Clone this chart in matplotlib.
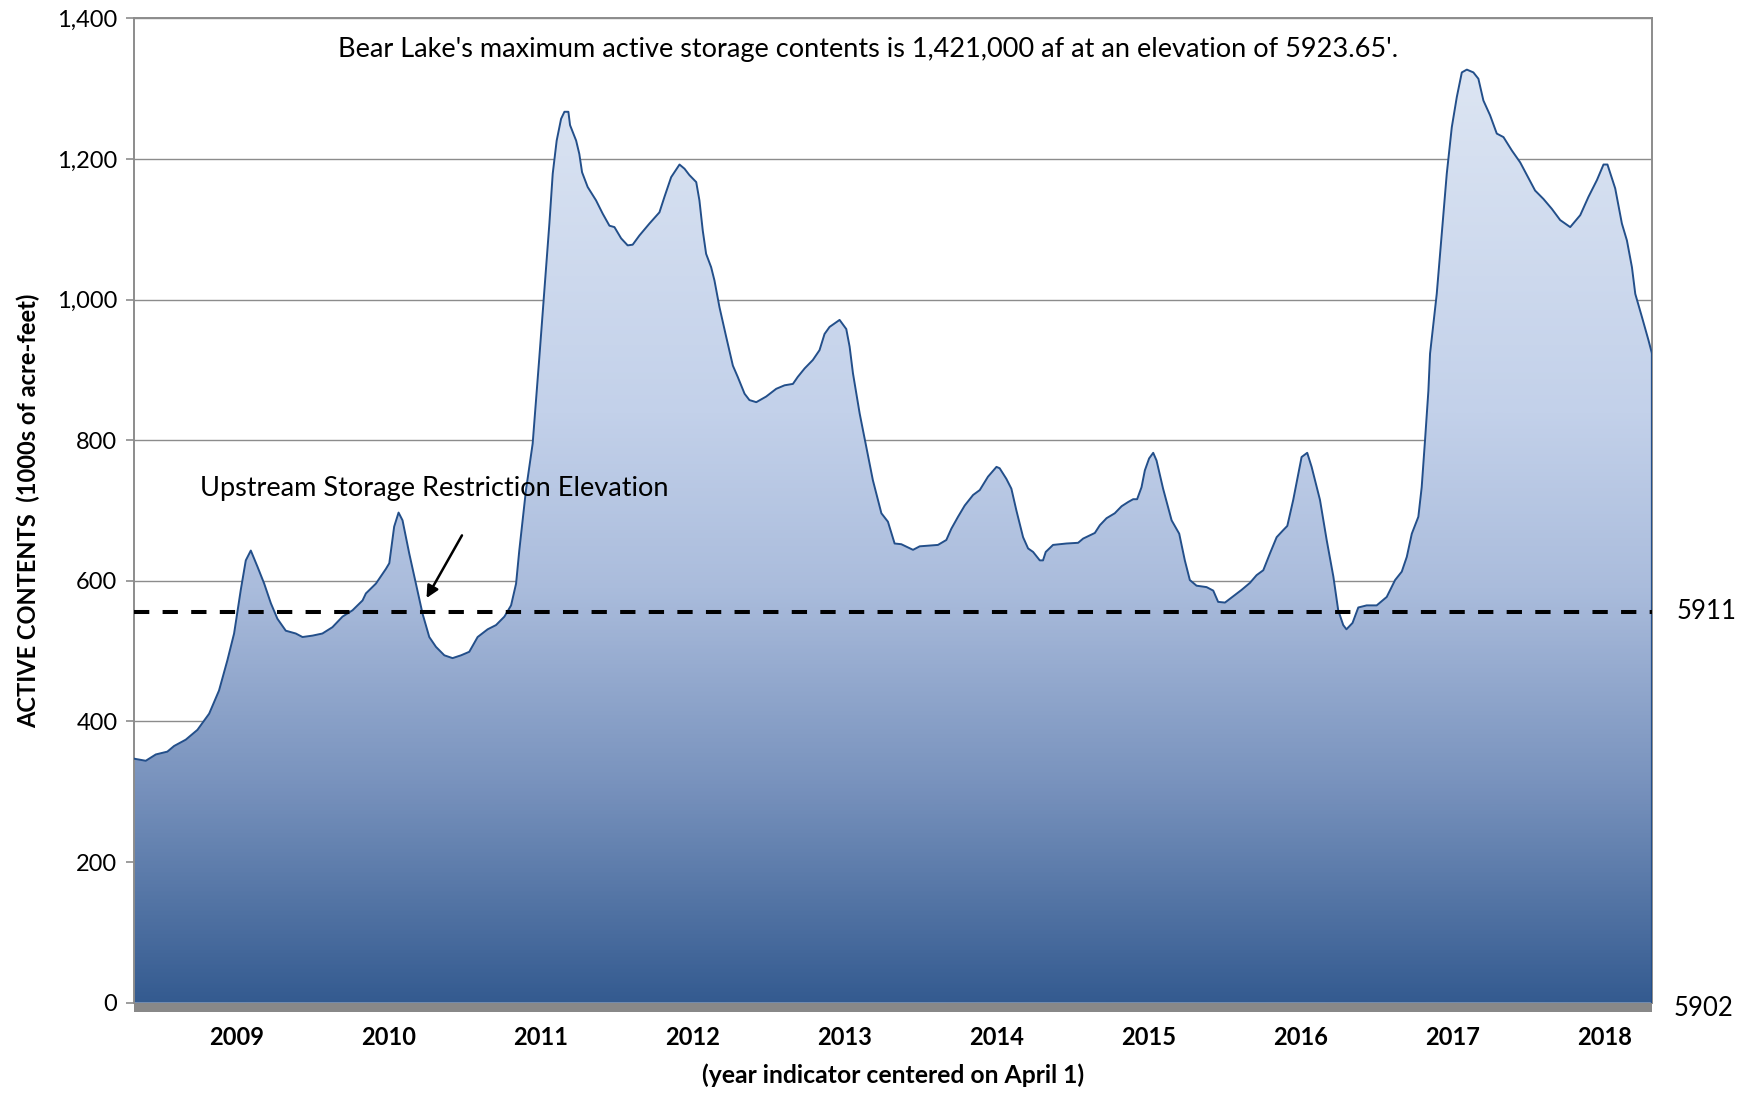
import numpy as np
import matplotlib
matplotlib.use("Agg")
import matplotlib.pyplot as plt
from matplotlib.colors import LinearSegmentedColormap
from matplotlib.patches import Rectangle
from matplotlib.ticker import FuncFormatter

# ---------------- data (decimal year, active contents in 1000s af) ----------------
years = [
    2008.574, 2008.651, 2008.717, 2008.793, 2008.837, 2008.914, 2008.991, 2009.068, 2009.133, 2009.188,
    2009.232, 2009.276, 2009.309, 2009.342, 2009.386, 2009.430, 2009.474, 2009.517, 2009.572, 2009.638,
    2009.682, 2009.748, 2009.813, 2009.879, 2009.945, 2010.011, 2010.077, 2010.099, 2010.165, 2010.231,
    2010.253, 2010.285, 2010.314, 2010.340, 2010.384, 2010.428, 2010.472, 2010.516, 2010.560, 2010.615,
    2010.669, 2010.725, 2010.779, 2010.834, 2010.900, 2010.955, 2011.010, 2011.054, 2011.087, 2011.108,
    2011.152, 2011.196, 2011.240, 2011.273, 2011.306, 2011.328, 2011.354, 2011.383, 2011.405, 2011.431,
    2011.442, 2011.482, 2011.503, 2011.521, 2011.558, 2011.613, 2011.657, 2011.701, 2011.734, 2011.778,
    2011.821, 2011.854, 2011.898, 2011.964, 2012.030, 2012.063, 2012.107, 2012.162, 2012.195, 2012.227,
    2012.272, 2012.293, 2012.315, 2012.337, 2012.370, 2012.392, 2012.425, 2012.469, 2012.513, 2012.545,
    2012.590, 2012.622, 2012.667, 2012.732, 2012.798, 2012.853, 2012.908, 2012.940, 2012.985, 2013.039,
    2013.083, 2013.116, 2013.149, 2013.182, 2013.215, 2013.259, 2013.281, 2013.303, 2013.347, 2013.391,
    2013.434, 2013.490, 2013.533, 2013.577, 2013.621, 2013.698, 2013.742, 2013.862, 2013.917, 2013.950,
    2013.994, 2014.038, 2014.093, 2014.137, 2014.191, 2014.247, 2014.268, 2014.312, 2014.345, 2014.378,
    2014.422, 2014.455, 2014.488, 2014.532, 2014.553, 2014.571, 2014.619, 2014.707, 2014.784, 2014.817,
    2014.894, 2014.927, 2014.971, 2015.025, 2015.070, 2015.113, 2015.146, 2015.172, 2015.201, 2015.223,
    2015.251, 2015.278, 2015.300, 2015.343, 2015.399, 2015.449, 2015.486, 2015.519, 2015.563, 2015.629,
    2015.673, 2015.705, 2015.750, 2015.804, 2015.859, 2015.914, 2015.958, 2016.002, 2016.046, 2016.090,
    2016.133, 2016.160, 2016.199, 2016.254, 2016.291, 2016.320, 2016.375, 2016.419, 2016.463, 2016.495,
    2016.528, 2016.549, 2016.589, 2016.627, 2016.682, 2016.748, 2016.814, 2016.869, 2016.913, 2016.946,
    2016.979, 2017.022, 2017.044, 2017.066, 2017.088, 2017.099, 2017.143, 2017.176, 2017.209, 2017.242,
    2017.275, 2017.308, 2017.341, 2017.384, 2017.417, 2017.450, 2017.494, 2017.538, 2017.582, 2017.637,
    2017.692, 2017.736, 2017.790, 2017.845, 2017.900, 2017.955, 2018.021, 2018.087, 2018.141, 2018.197,
    2018.240, 2018.266, 2018.317, 2018.361, 2018.394, 2018.427, 2018.449, 2018.493, 2018.536, 2018.559,
]
contents = [
    347, 344, 353, 357, 365, 374, 388, 411, 444, 487,
    525, 587, 629, 643, 620, 596, 568, 546, 529, 525,
    520, 522, 525, 534, 549, 558, 572, 582, 596, 617,
    625, 677, 697, 686, 639, 596, 553, 520, 506, 494,
    490, 494, 499, 520, 531, 537, 549, 565, 596, 643,
    729, 795, 918, 1013, 1108, 1179, 1226, 1257, 1267, 1267,
    1248, 1226, 1207, 1181, 1160, 1141, 1122, 1105, 1103, 1087,
    1077, 1078, 1091, 1108, 1124, 1146, 1174, 1192, 1186, 1177,
    1167, 1141, 1098, 1065, 1046, 1027, 989, 947, 906, 890,
    866, 857, 854, 862, 873, 878, 880, 890, 902, 914,
    928, 951, 961, 966, 971, 958, 933, 895, 838, 790,
    743, 696, 684, 653, 652, 644, 649, 651, 658, 674,
    691, 707, 722, 729, 748, 762, 760, 745, 731, 700,
    662, 646, 641, 629, 629, 641, 651, 653, 654, 660,
    668, 679, 689, 696, 706, 712, 716, 716, 733, 757,
    774, 782, 771, 731, 686, 667, 629, 601, 593, 591,
    586, 570, 569, 578, 587, 597, 608, 615, 639, 662,
    672, 678, 715, 776, 782, 762, 715, 658, 606, 558,
    537, 531, 540, 562, 565, 565, 577, 601, 613, 634,
    667, 691, 733, 800, 870, 923, 1008, 1094, 1179, 1245,
    1288, 1323, 1327, 1323, 1314, 1283, 1262, 1236, 1231, 1212,
    1195, 1177, 1155, 1143, 1129, 1113, 1103, 1120, 1146, 1170,
    1192, 1192, 1158, 1108, 1084, 1046, 1008, 975, 942, 923,
]
tick_years = [2009, 2010, 2011, 2012, 2013, 2014, 2015, 2016, 2017, 2018]
restriction_level = 556          # 1000s af, elevation 5911
elev_labels = ["5911", "5902"]
y_ticks = [0, 200, 400, 600, 800, 1000, 1200, 1400]

title_text = "Bear Lake's maximum active storage contents is 1,421,000 af at an elevation of 5923.65'."
annot_text = "Upstream Storage Restriction Elevation"
ylabel_text = "ACTIVE CONTENTS  (1000s of acre-feet)"
xlabel_text = "(year indicator centered on April 1)"

# ---------------- figure ----------------
plt.rcParams['font.family'] = ['Lato', 'DejaVu Sans']
fig = plt.figure(figsize=(17.5, 10.94), dpi=100)
ax = fig.add_axes([0.0766, 0.0835, 0.8674, 0.8998])

t = np.array(years)
v = np.array(contents)

# gradient fill clipped to area
poly = ax.fill_between(t, v, 0, facecolor='none', edgecolor='none')
cmap = LinearSegmentedColormap.from_list(
    'lake', [(0.0, '#345b90'), (0.22, '#7892bd'), (0.42, '#aabcdc'),
             (0.60, '#c3d1ea'), (1.0, '#e0e8f4')])
grad = np.linspace(0, 1, 512).reshape(-1, 1)
im = ax.imshow(grad, extent=[t[0], t[-1], 0, 1400], origin='lower',
               aspect='auto', cmap=cmap, zorder=1, interpolation='bilinear')
im.set_clip_path(poly.get_paths()[0], transform=ax.transData)

# outline
ax.plot(t, v, color='#234f8a', lw=1.4, zorder=3)
ax.plot([t[-1], t[-1]], [0, v[-1]], color='#234f8a', lw=1.6, zorder=3)

# restriction dashed line
ax.axhline(restriction_level, color='black', lw=2.9, dashes=(3.8, 3.3), zorder=4)

ax.set_xlim(t[0], t[-1])
ax.set_ylim(0, 1400)

# grid & spines
ax.set_axisbelow(True)
ax.yaxis.grid(True, color='#8c8c8c', lw=1.0)
ax.xaxis.grid(False)
for s in ['left', 'top', 'right']:
    ax.spines[s].set_color('#8c8c8c')
    ax.spines[s].set_linewidth(1.4)
ax.spines['bottom'].set_visible(False)
ax.add_patch(Rectangle((0, -0.0092), 1, 0.0092, transform=ax.transAxes,
                       facecolor='#888888', edgecolor='none', clip_on=False, zorder=5))

ax.set_yticks(y_ticks)
ax.yaxis.set_major_formatter(FuncFormatter(lambda x, p: f"{int(x):,}"))
ax.tick_params(axis='y', direction='out', length=6, width=1.2, color='#8c8c8c',
               labelsize=17, pad=6)
ax.set_xticks([y + 0.25 for y in tick_years])
ax.set_xticklabels([str(y) for y in tick_years], fontweight='bold')
ax.tick_params(axis='x', length=0, labelsize=17, pad=17)

ax.set_ylabel(ylabel_text, fontsize=17, fontweight='bold', labelpad=12)
ax.set_xlabel(xlabel_text, fontsize=17.8, fontweight='bold', labelpad=10)

# texts
ax.text(2013.403, 1355, title_text, fontsize=19.5, ha='center', va='center', zorder=6)
ax.text(2009.008, 731, annot_text, fontsize=19.5, ha='left', va='center', zorder=6)
ax.annotate('', xy=(2010.489, 572), xytext=(2010.740, 668),
            arrowprops=dict(arrowstyle='-|>', color='black', lw=1.8,
                            mutation_scale=18), zorder=6)

ax.text(1.016, restriction_level, elev_labels[0], transform=ax.get_yaxis_transform(),
        fontsize=18.5, ha='left', va='center')
ax.text(1.014, -8, elev_labels[1], transform=ax.get_yaxis_transform(),
        fontsize=18.5, ha='left', va='center')

fig.savefig('out.png', dpi=100)
